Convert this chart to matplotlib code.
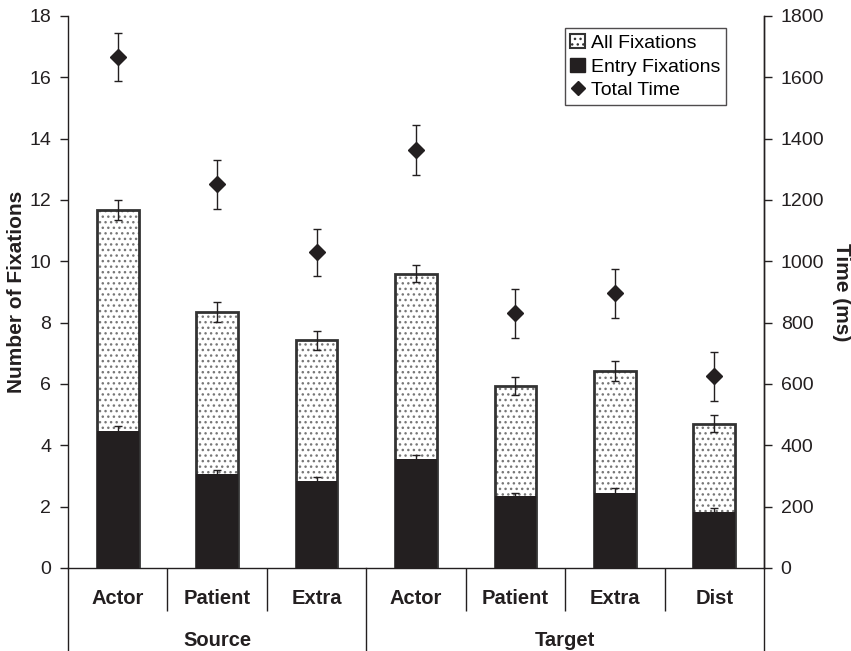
import matplotlib
matplotlib.use('Agg')
import matplotlib.pyplot as plt
import numpy as np
from matplotlib.transforms import blended_transform_factory
from matplotlib.patches import Patch
from matplotlib.lines import Line2D

plt.rcParams['font.family'] = ['Liberation Sans', 'DejaVu Sans']
plt.rcParams['hatch.linewidth'] = 1.0

# ---- data ----
categories = ['Actor', 'Patient', 'Extra', 'Actor', 'Patient', 'Extra', 'Dist']
groups = ['Source', 'Target']
group_sizes = [3, 4]
all_fix = [11.68, 8.35, 7.42, 9.59, 5.93, 6.43, 4.71]
all_fix_err = [0.32, 0.32, 0.30, 0.28, 0.29, 0.33, 0.27]
entry_fix = [4.47, 3.05, 2.84, 3.55, 2.34, 2.45, 1.83]
entry_fix_err = [0.15, 0.15, 0.12, 0.12, 0.10, 0.15, 0.13]
total_time = [1667, 1251, 1029, 1363, 830, 896, 625]
total_time_err = [78, 79, 77, 80, 79, 80, 79]
left_ticks = list(range(0, 19, 2))
right_ticks = list(range(0, 1801, 200))

DARK = '#231f20'

fig = plt.figure(figsize=(8.51, 6.51), dpi=100)
ax = fig.add_axes([68/851, 83/651, 696/851, 552/651])
ax2 = ax.twinx()

n = len(categories)
x = np.arange(n) + 0.5
bw = 0.42

# All fixations: dotted fill + dark outline
ax.bar(x, all_fix, width=bw, color='white', edgecolor='#777777', hatch='...', linewidth=0, zorder=2)
ax.bar(x, all_fix, width=bw, fill=False, edgecolor='#333333', linewidth=2, zorder=3)
# Entry fixations
ax.bar(x, entry_fix, width=bw, color=DARK, edgecolor=DARK, linewidth=0, zorder=4)
ax.errorbar(x, all_fix, yerr=all_fix_err, fmt='none', ecolor=DARK, elinewidth=1, capsize=3, capthick=1, zorder=5)
ax.errorbar(x, entry_fix, yerr=entry_fix_err, fmt='none', ecolor=DARK, elinewidth=1, capsize=3, capthick=1, zorder=5)

ax2.errorbar(x, total_time, yerr=total_time_err, fmt='D', color=DARK, ms=8, elinewidth=1, capsize=3, capthick=1, zorder=5)

ax.set_xlim(0, n)
ax.set_ylim(0, 18)
ax2.set_ylim(0, 1800)
ax.set_yticks(left_ticks)
ax2.set_yticks(right_ticks)

for a in (ax, ax2):
    a.spines['top'].set_visible(False)
    for s in a.spines.values():
        s.set_linewidth(1.0)
        s.set_color(DARK)
ax2.spines['left'].set_visible(False)
ax2.spines['bottom'].set_visible(False)

ax.tick_params(axis='y', direction='out', length=6, width=1, pad=6, labelsize=14, colors=DARK)
ax2.tick_params(axis='y', direction='out', length=6, width=1, pad=6, labelsize=14, colors=DARK)

# category axis: boundary ticks inside groups
bounds = np.cumsum([0] + group_sizes)
inner = [b for b in range(1, n) if b not in bounds]
ax.set_xticks(inner, minor=True)
ax.set_xticks([])
ax.tick_params(axis='x', which='minor', direction='out', length=31, width=1, colors=DARK)

tr = blended_transform_factory(ax.transData, ax.transAxes)
for xi, lab in zip(x, categories):
    ax.text(xi, -0.0555, lab, transform=tr, ha='center', va='center', fontsize=14.5, fontweight='bold', color=DARK)
for gi, g in enumerate(groups):
    c = (bounds[gi] + bounds[gi + 1]) / 2
    ax.text(c, -0.1305, g, transform=tr, ha='center', va='center', fontsize=14.5, fontweight='bold', color=DARK)

# group boundary lines extending to figure bottom
trf = blended_transform_factory(ax.transData, fig.transFigure)
y0 = 83/651
for b in bounds:
    ax.add_line(Line2D([b, b], [0, y0], transform=trf, color=DARK, lw=1, clip_on=False))

ax.set_ylabel('Number of Fixations', fontsize=15, fontweight='bold', color=DARK, va='center')
ax.yaxis.set_label_coords(-0.0733, 0.5)
ax2.set_ylabel('Time (ms)', fontsize=15, fontweight='bold', color=DARK, rotation=-90, va='center')
ax2.yaxis.set_label_coords(1.112, 0.5)

handles = [
    Patch(facecolor='white', edgecolor='#333333', hatch='...', linewidth=1.5, label='All Fixations'),
    Patch(facecolor=DARK, edgecolor=DARK, label='Entry Fixations'),
    Line2D([], [], marker='D', color=DARK, linestyle='none', ms=7, label='Total Time'),
]
leg = ax2.legend(handles=handles, loc='upper right', bbox_to_anchor=(0.9454, 0.978), frameon=True,
                 fancybox=False, edgecolor=DARK, fontsize=14, handlelength=0.75, handleheight=0.75,
                 handletextpad=0.3, borderpad=0.3, labelspacing=0.3, borderaxespad=0)
leg.get_frame().set_linewidth(1)

fig.savefig('out.png', dpi=100)
